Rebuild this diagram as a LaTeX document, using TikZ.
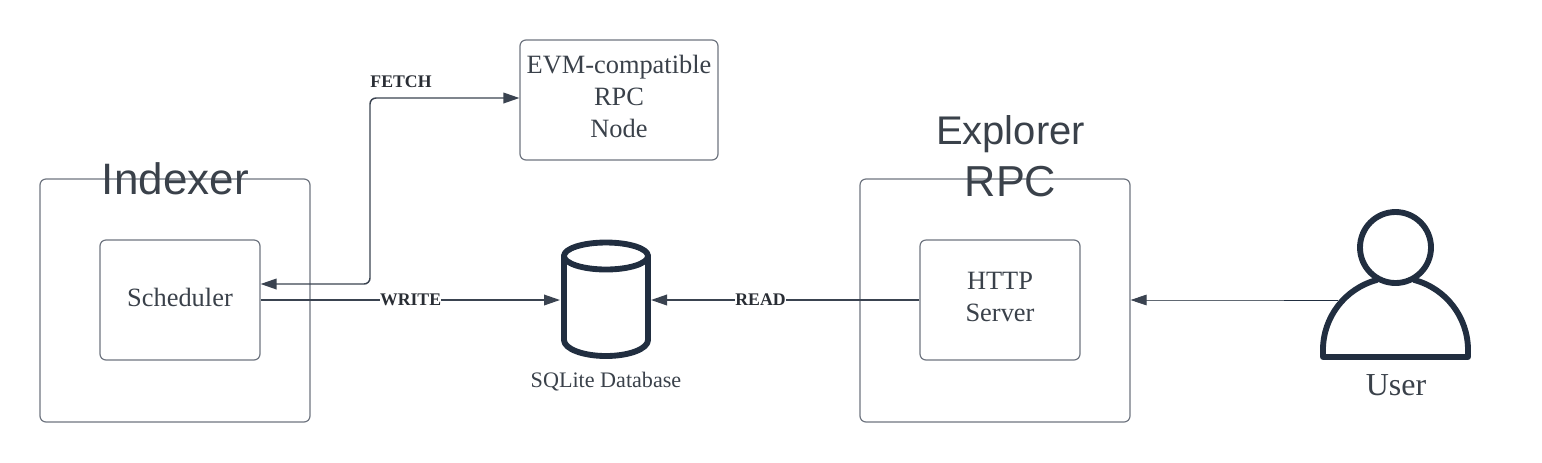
\documentclass[tikz,border=0pt]{standalone}
\usepackage{fontspec}
\setmainfont{Liberation Serif}
\newfontfamily\headfont{Liberation Sans}
\usetikzlibrary{arrows.meta}
\definecolor{boxline}{HTML}{6F7580}
\definecolor{ink}{HTML}{3A414A}
\definecolor{navy}{HTML}{212E40}
\definecolor{wire}{HTML}{3A4350}
\newcommand{\liftedlines}[2]{\raisebox{0pt}[\height][\dimexpr\depth+#1pt\relax]{\begin{tabular}{@{}c@{}}#2\end{tabular}}}
\tikzset{
  x=0.75pt,y=-0.75pt,
  roundbox/.style={draw=boxline,line width=0.9pt,rounded corners=4.5pt,anchor=north west,inner sep=0pt,text=ink,align=center},
  boxtext/.style={font=\fontsize{19.8}{24}\selectfont},
  headtext/.style={text=ink,align=center,inner sep=0pt,font=\headfont\fontsize{30}{38.8}\selectfont},
  edgelabel/.style={fill=white,text=ink!70!black,inner xsep=0pt,inner ysep=0.5pt,font=\bfseries\fontsize{13.3}{15}\selectfont},
  plainlabel/.style={text=ink,inner sep=0pt},
  headtip/.tip={Triangle[length=12pt,width=8pt,color=wire]},
  wireline/.style={draw=wire,line width=1.1pt},
  thinwire/.style={draw=wire!80!white,line width=0.6pt},
  iconline/.style={draw=navy,line width=4.4pt,line join=round,line cap=round},
}
\begin{document}
\begin{tikzpicture}
\useasboundingbox (0,0) rectangle (1542,462);
% containers
\node[roundbox,minimum width=202.5pt,minimum height=182.25pt] (indexer) at (39.4,178.4) {};
\node[roundbox,minimum width=202.5pt,minimum height=182.25pt] (explorer) at (859.4,178.4) {};
\node[roundbox,boxtext,minimum width=120pt,minimum height=90pt] (sched) at (99.4,239.4) {\liftedlines{0}{Scheduler}};
\node[roundbox,boxtext,minimum width=120pt,minimum height=90pt] (http) at (919.4,239.4) {\liftedlines{1.5}{HTTP\\Server}};
\node[roundbox,boxtext,minimum width=148.5pt,minimum height=90pt] (evm) at (519.4,39.4) {\liftedlines{1.5}{EVM-compatible\\RPC\\Node}};
% headings
\node[headtext,font=\headfont\fontsize{33}{40}\selectfont] (indexertitle) at (175.3,179) {Indexer};
\node[headtext] (explorertitle) at (1010.5,156.4) {Explorer\\{\fontsize{32.5}{38.8}\selectfont RPC}};
% database icon
\coordinate (dbw) at (560,300);
\coordinate (dbe) at (651,300);
\draw[iconline] (564,256) arc[start angle=180,end angle=540,x radius=42,y radius=13.5];
\draw[iconline] (564,256) -- (564,340) arc[start angle=180,end angle=0,x radius=42,y radius=16] -- (648,256);
\node[plainlabel,font=\fontsize{16.6}{20}\selectfont] (dblabel) at (606,382) {SQLite Database};
% user icon
\coordinate (userin) at (1338,300);
\draw[iconline] (1395.5,247.5) circle[radius=35.5];
\draw[iconline] (1376.7,280) arc[start angle=255,end angle=180,radius=72.5] -- (1323,357) -- (1468,357) -- (1468,350) arc[start angle=0,end angle=-75,radius=72.5];
\node[plainlabel,font=\fontsize{24}{28}\selectfont] (userlabel) at (1396,385) {User};
% connectors
\coordinate (fetchend) at (sched.east |- 0,284);
\draw[wireline,rounded corners=4.5pt,{headtip}-{headtip}] (fetchend) -- (370,284) -- (370,98) -- (evm.west |- 0,98);
\node[edgelabel,fill=none] (fetchlabel) at (401,82) {FETCH};
\draw[wireline,-{headtip}] (sched.east |- 0,300) -- node[edgelabel,pos=0.501] (writelabel) {WRITE} (dbw);
\draw[wireline,-{headtip}] (http.west |- 0,300) -- node[edgelabel,pos=0.592] (readlabel) {READ} (dbe);
\draw[thinwire,-{headtip}] (userin) -- (explorer.east |- 0,300);
\draw[draw=navy,line width=0.6pt] (userin) -- (1284,300);
\end{tikzpicture}
\end{document}
